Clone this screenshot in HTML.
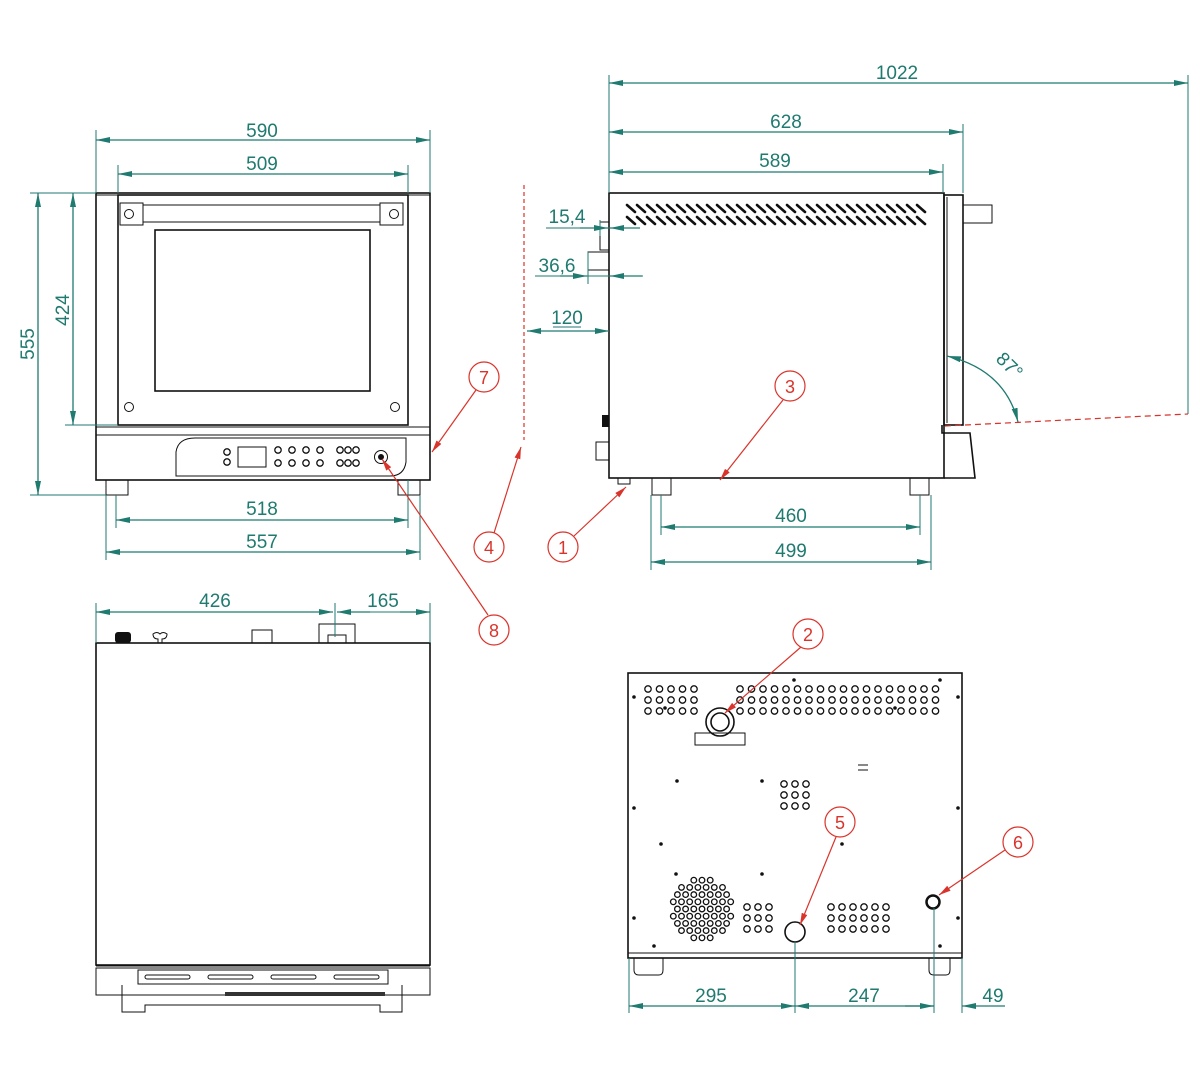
<!DOCTYPE html>
<html><head><meta charset="utf-8"><style>
html,body{margin:0;padding:0;background:#fff;width:1200px;height:1080px;overflow:hidden}
svg{display:block}
.d{stroke:#1f7a70;stroke-width:1.3;fill:none}
.e{stroke:#1f7a70;stroke-width:1;fill:none}
.t{fill:#1f7a70;font-family:"Liberation Sans",sans-serif;font-size:19px;text-anchor:middle}
.k{stroke:#111;stroke-width:1.6;fill:none}
.k1{stroke:#111;stroke-width:1;fill:none}
.r{stroke:#d9342b;stroke-width:1.2;fill:none}
.rc{stroke:#d9342b;stroke-width:1.2;fill:#fff}
.rt{fill:#d9342b;font-family:"Liberation Sans",sans-serif;font-size:18px;text-anchor:middle}
</style></head><body>
<svg id="s" width="1200" height="1080" viewBox="0 0 1200 1080" xmlns="http://www.w3.org/2000/svg">
<defs>
<marker id="a" viewBox="0 0 14 6" refX="14" refY="3" markerWidth="14" markerHeight="6" markerUnits="userSpaceOnUse" orient="auto-start-reverse"><path d="M0,0L14,3L0,6z" fill="#1f7a70"/></marker>
<marker id="ra" viewBox="0 0 12 6" refX="12" refY="3" markerWidth="12" markerHeight="6" markerUnits="userSpaceOnUse" orient="auto"><path d="M0,0L12,3L0,6z" fill="#d9342b"/></marker>
</defs>

<!-- FRONT VIEW -->
<g>
<rect class="k" x="96" y="193" width="334" height="287"/>
<rect class="k" x="118" y="195" width="290" height="230"/>
<line class="k1" x1="96" y1="195" x2="430" y2="195"/>
<rect class="k1" x="120" y="203" width="23" height="22"/><circle class="k1" cx="129" cy="214" r="4.5"/>
<rect class="k1" x="380" y="203" width="23" height="22"/><circle class="k1" cx="394" cy="214" r="4.5"/>
<line class="k1" x1="143" y1="205" x2="380" y2="205"/><line class="k1" x1="143" y1="222" x2="380" y2="222"/>
<rect class="k" x="155" y="230" width="215" height="161"/>
<circle class="k1" cx="129" cy="407" r="4.5"/><circle class="k1" cx="395" cy="407" r="4.5"/>
<rect class="k1" x="96" y="427" width="334" height="8"/>
<path class="k1" d="M176,476 L176,452 Q178,438 195,438 L406,438 L406,462 Q404,476 390,476 Z"/>
<rect class="k1" x="238" y="447" width="28" height="20"/>
<line class="k1" x1="96" y1="480" x2="430" y2="480"/>
<rect class="k1" x="106" y="480" width="22" height="15"/>
<rect class="k1" x="398" y="480" width="22" height="15"/>
<circle class="k1" cx="381" cy="457" r="6.5"/><circle cx="381" cy="457" r="3" fill="#111"/>
</g>
<g id="fbtn"></g>

<!-- front dims -->
<line class="e" x1="96" y1="130" x2="96" y2="193"/><line class="e" x1="430" y1="130" x2="430" y2="193"/>
<line class="e" x1="118" y1="165" x2="118" y2="193"/><line class="e" x1="408" y1="165" x2="408" y2="193"/>
<line class="d" x1="96" y1="140" x2="430" y2="140" marker-start="url(#a)" marker-end="url(#a)"/>
<text class="t" x="262" y="137">590</text>
<line class="d" x1="118" y1="174" x2="408" y2="174" marker-start="url(#a)" marker-end="url(#a)"/>
<text class="t" x="262" y="170">509</text>
<line class="e" x1="30" y1="193" x2="96" y2="193"/><line class="e" x1="30" y1="495" x2="106" y2="495"/>
<line class="e" x1="65" y1="425" x2="118" y2="425"/>
<line class="d" x1="38" y1="193" x2="38" y2="495" marker-start="url(#a)" marker-end="url(#a)"/>
<text class="t" transform="translate(34,344) rotate(-90)">555</text>
<line class="d" x1="73" y1="193" x2="73" y2="425" marker-start="url(#a)" marker-end="url(#a)"/>
<text class="t" transform="translate(69,310) rotate(-90)">424</text>
<line class="e" x1="116" y1="495" x2="116" y2="528"/><line class="e" x1="408" y1="480" x2="408" y2="528"/>
<line class="e" x1="106" y1="495" x2="106" y2="560"/><line class="e" x1="420" y1="495" x2="420" y2="560"/>
<line class="d" x1="116" y1="520" x2="408" y2="520" marker-start="url(#a)" marker-end="url(#a)"/>
<text class="t" x="262" y="515">518</text>
<line class="d" x1="106" y1="552" x2="420" y2="552" marker-start="url(#a)" marker-end="url(#a)"/>
<text class="t" x="262" y="548">557</text>

<!-- callouts front -->
<line class="r" stroke-dasharray="4,3" x1="524" y1="185" x2="524" y2="440"/>
<line class="r" x1="476" y1="390" x2="432" y2="452" marker-end="url(#ra)"/>
<circle class="rc" cx="484" cy="377" r="15"/><text class="rt" x="484" y="384">7</text>
<line class="r" x1="488" y1="615" x2="382" y2="459" marker-end="url(#ra)"/>
<circle class="rc" cx="494" cy="630" r="15"/><text class="rt" x="494" y="637">8</text>
<line class="r" x1="494" y1="533" x2="521" y2="447" marker-end="url(#ra)"/>
<circle class="rc" cx="489" cy="547" r="15"/><text class="rt" x="489" y="554">4</text>

<!-- SIDE VIEW -->
<rect class="k" x="609" y="193" width="335" height="285"/>
<rect class="k" x="944" y="195" width="19" height="230"/>
<line class="k1" x1="947" y1="197" x2="947" y2="423"/>
<rect class="k1" x="963" y="205" width="29" height="18"/>
<path class="k" d="M942,425 L942,433 L970,433 L975,478 L944,478"/>
<rect class="k1" x="600" y="222" width="9" height="28"/>
<rect class="k1" x="588" y="252" width="21" height="18"/>
<rect x="602" y="415" width="7" height="12" fill="#111"/>
<rect class="k1" x="596" y="442" width="13" height="18"/>
<rect class="k1" x="652" y="478" width="19" height="17"/>
<rect class="k1" x="910" y="478" width="19" height="17"/>
<rect class="k1" x="618" y="478" width="12" height="6"/>
<g id="vents"></g>

<!-- side dims -->
<line class="e" x1="609" y1="75" x2="609" y2="193"/><line class="e" x1="963" y1="124" x2="963" y2="193"/>
<line class="e" x1="943" y1="164" x2="943" y2="193"/><line class="e" x1="1188" y1="75" x2="1188" y2="414"/>
<line class="d" x1="609" y1="83" x2="1188" y2="83" marker-start="url(#a)" marker-end="url(#a)"/>
<text class="t" x="897" y="79">1022</text>
<line class="d" x1="609" y1="132" x2="963" y2="132" marker-start="url(#a)" marker-end="url(#a)"/>
<text class="t" x="786" y="128">628</text>
<line class="d" x1="609" y1="172" x2="943" y2="172" marker-start="url(#a)" marker-end="url(#a)"/>
<text class="t" x="775" y="167">589</text>
<line class="e" x1="546" y1="228" x2="640" y2="228"/>
<line class="d" x1="580" y1="228" x2="608" y2="228" marker-end="url(#a)"/>
<line class="d" x1="640" y1="228" x2="610" y2="228" marker-end="url(#a)"/>
<line class="e" x1="600" y1="220" x2="600" y2="236"/>
<text class="t" x="567" y="223">15,4</text>
<line class="e" x1="535" y1="276" x2="643" y2="276"/>
<line class="d" x1="560" y1="276" x2="587" y2="276" marker-end="url(#a)"/>
<line class="d" x1="642" y1="276" x2="610" y2="276" marker-end="url(#a)"/>
<line class="e" x1="588" y1="252" x2="588" y2="284"/>
<text class="t" x="557" y="272">36,6</text>
<line class="d" x1="527" y1="331" x2="609" y2="331" marker-start="url(#a)" marker-end="url(#a)"/>
<text class="t" x="567" y="324">120</text>
<line class="e" x1="553" y1="327" x2="581" y2="327"/>
<path class="d" d="M947,356 Q1005,370 1018,422" marker-start="url(#a)" marker-end="url(#a)"/>
<text class="t" transform="translate(1005,370) rotate(45)">87°</text>
<line class="r" stroke-dasharray="6,4" x1="945" y1="426" x2="1188" y2="414"/>
<line class="e" x1="661" y1="495" x2="661" y2="535"/><line class="e" x1="920" y1="495" x2="920" y2="535"/>
<line class="e" x1="651" y1="495" x2="651" y2="570"/><line class="e" x1="931" y1="495" x2="931" y2="570"/>
<line class="d" x1="661" y1="527" x2="920" y2="527" marker-start="url(#a)" marker-end="url(#a)"/>
<text class="t" x="791" y="522">460</text>
<line class="d" x1="651" y1="562" x2="931" y2="562" marker-start="url(#a)" marker-end="url(#a)"/>
<text class="t" x="791" y="557">499</text>
<line class="r" x1="783" y1="400" x2="720" y2="480" marker-end="url(#ra)"/>
<circle class="rc" cx="790" cy="386" r="15"/><text class="rt" x="790" y="393">3</text>
<line class="r" x1="574" y1="536" x2="626" y2="487" marker-end="url(#ra)"/>
<circle class="rc" cx="563" cy="547" r="15"/><text class="rt" x="563" y="554">1</text>

<!-- TOP VIEW -->
<rect class="k" x="96" y="643" width="334" height="322"/>
<rect x="115" y="632" width="16" height="11" rx="3" fill="#111"/>
<path class="k1" d="M153,634 q4,-3 7,0 q3,-3 7,0 q0,5 -5,5 v4 h-4 v-4 q-5,0 -5,-5z"/>
<rect class="k1" x="252" y="630" width="20" height="13"/>
<rect class="k1" x="319" y="624" width="36" height="19"/>
<rect class="k1" x="328" y="635" width="18" height="8"/>
<line class="e" x1="96" y1="603" x2="96" y2="643"/><line class="e" x1="430" y1="603" x2="430" y2="643"/>
<line class="e" x1="335" y1="603" x2="335" y2="637"/>
<line class="d" x1="96" y1="612" x2="333" y2="612" marker-start="url(#a)" marker-end="url(#a)"/>
<line class="d" x1="370" y1="612" x2="337" y2="612" marker-end="url(#a)"/>
<line class="d" x1="400" y1="612" x2="430" y2="612" marker-end="url(#a)"/>
<line class="e" x1="337" y1="612" x2="400" y2="612"/>
<text class="t" x="215" y="607">426</text>
<text class="t" x="383" y="607">165</text>
<line class="k1" x1="96" y1="966" x2="430" y2="966"/>
<rect class="k1" x="96" y="968" width="334" height="27"/>
<rect class="k1" x="138" y="970" width="250" height="14"/>
<g fill="none" stroke="#111" stroke-width="1"><rect x="145" y="975" width="45" height="4" rx="2"/><rect x="208" y="975" width="45" height="4" rx="2"/><rect x="271" y="975" width="45" height="4" rx="2"/><rect x="334" y="975" width="45" height="4" rx="2"/></g>
<path class="k1" d="M122,985 L122,1012 L145,1012 L145,1005 L380,1005 L380,1012 L402,1012 L402,985"/>
<rect x="225" y="992" width="160" height="4" fill="#333"/>

<!-- BACK VIEW -->
<rect class="k" x="628" y="673" width="334" height="285"/>
<line class="k1" x1="628" y1="953" x2="962" y2="953"/>
<path class="k1" d="M634,958 v12 q0,5 5,5 h20 q4,0 4,-5 v-12"/>
<path class="k1" d="M929,958 v12 q0,5 5,5 h12 q4,0 4,-5 v-12"/>
<g id="back"></g>
<circle class="k" cx="720" cy="722" r="14"/><circle class="k" cx="720" cy="722" r="9"/>
<rect class="k1" x="695" y="733" width="50" height="12"/>
<circle class="k" cx="795" cy="932" r="10"/>
<circle stroke="#111" stroke-width="2.5" fill="none" cx="933" cy="902" r="6.5"/>
<line class="k1" x1="858" y1="765" x2="868" y2="765"/><line class="k1" x1="858" y1="770" x2="868" y2="770"/>
<!-- back dims -->
<line class="e" x1="629" y1="958" x2="629" y2="1013"/><line class="e" x1="795" y1="942" x2="795" y2="1013"/>
<line class="e" x1="934" y1="908" x2="934" y2="1013"/><line class="e" x1="962" y1="958" x2="962" y2="1013"/>
<line class="d" x1="629" y1="1006" x2="795" y2="1006" marker-start="url(#a)" marker-end="url(#a)"/>
<line class="d" x1="795" y1="1006" x2="934" y2="1006" marker-start="url(#a)" marker-end="url(#a)"/>
<line class="d" x1="1005" y1="1006" x2="962" y2="1006" marker-end="url(#a)"/>
<line class="d" x1="905" y1="1006" x2="934" y2="1006"/>
<text class="t" x="711" y="1002">295</text>
<text class="t" x="864" y="1002">247</text>
<text class="t" x="993" y="1002">49</text>
<line class="r" x1="801" y1="647" x2="725" y2="713" marker-end="url(#ra)"/>
<circle class="rc" cx="808" cy="634" r="15"/><text class="rt" x="808" y="641">2</text>
<line class="r" x1="836" y1="837" x2="800" y2="925" marker-end="url(#ra)"/>
<circle class="rc" cx="840" cy="822" r="15"/><text class="rt" x="840" y="829">5</text>
<line class="r" x1="1005" y1="850" x2="939" y2="895" marker-end="url(#ra)"/>
<circle class="rc" cx="1018" cy="842" r="15"/><text class="rt" x="1018" y="849">6</text>
</svg>
<script>
var NS="http://www.w3.org/2000/svg";
function c(g,x,y,r,fill){var e=document.createElementNS(NS,"circle");e.setAttribute("cx",x);e.setAttribute("cy",y);e.setAttribute("r",r);e.setAttribute("fill",fill||"none");e.setAttribute("stroke","#111");e.setAttribute("stroke-width",fill?"0":"1.3");g.appendChild(e);}
function l(g,x1,y1,x2,y2,w){var e=document.createElementNS(NS,"line");e.setAttribute("x1",x1);e.setAttribute("y1",y1);e.setAttribute("x2",x2);e.setAttribute("y2",y2);e.setAttribute("stroke","#111");e.setAttribute("stroke-width",w);e.setAttribute("stroke-linecap","round");g.appendChild(e);}
var f=document.getElementById("fbtn");
c(f,227,452,3.2);c(f,227,462,3.2);
[278,292,306,320,340,348,356].forEach(function(x){c(f,x,450,3.2);c(f,x,463,3.2);});
var v=document.getElementById("vents");
for(var x=627;x<925;x+=10){l(v,x,205,x+8,212,2.6);l(v,x,217,x+8,224,2.6);}
var b=document.getElementById("back");
for(var r=0;r<3;r++){var y=689+r*11;
 for(var x=648;x<=705;x+=11.5)c(b,x,y,3.2);
 for(var x=740;x<=946;x+=11.5)c(b,x,y,3.2);}
for(var i=0;i<3;i++)for(var j=0;j<3;j++)c(b,784+i*11,784+j*11,3.2);
for(var i=0;i<3;i++)for(var j=0;j<3;j++)c(b,747+i*11,907+j*11,3.2);
for(var i=0;i<6;i++)for(var j=0;j<3;j++)c(b,831+i*11,907+j*11,3.2);
for(var i=-5;i<=5;i++)for(var j=-4;j<=4;j++){var x=702+i*8.2+(j%2?4.1:0),y=909+j*7.2;if(Math.hypot(x-702,y-909)<30)c(b,x,y,2.8);}
[[634,697],[958,697],[634,808],[958,808],[634,918],[958,918],[677,781],[762,781],[661,844],[842,844],[654,946],[940,946],[794,680],[940,680],[665,708],[895,708],[676,874],[762,874]].forEach(function(p){c(b,p[0],p[1],1.8,"#111");});
</script>
</body></html>
